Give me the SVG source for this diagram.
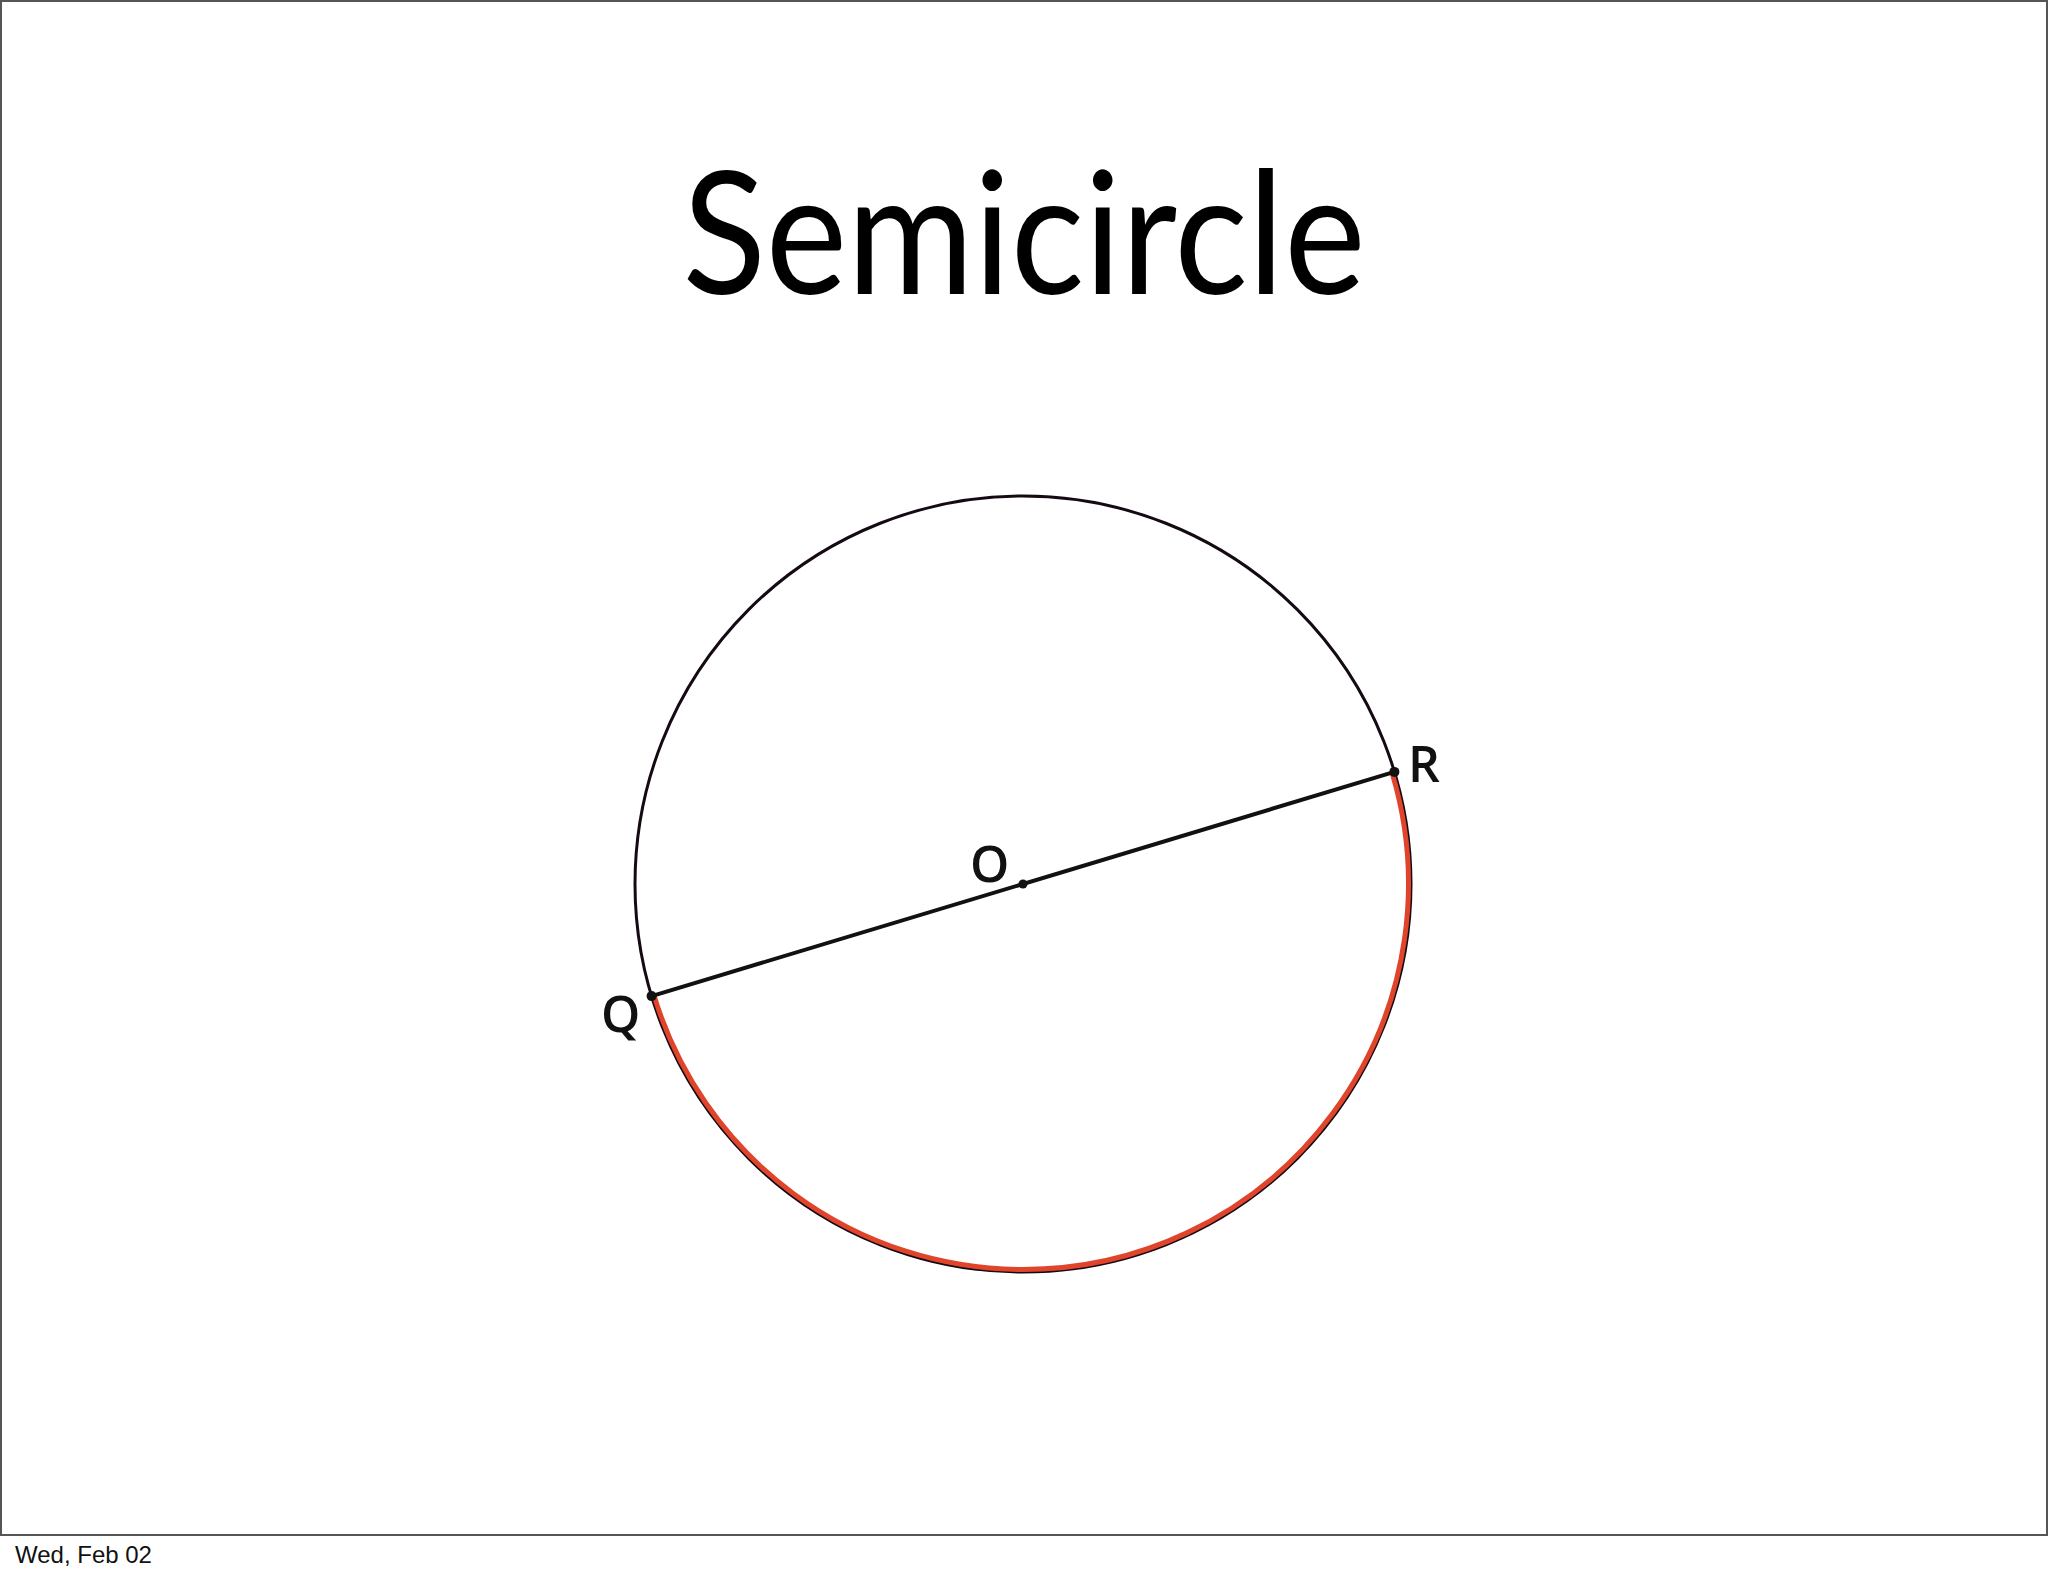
<svg xmlns="http://www.w3.org/2000/svg" width="2048" height="1576" viewBox="0 0 2048 1576">
  <style>
    .lbl { font-family: "Open Sans", "Noto Sans", sans-serif; font-size: 50px; font-weight: 600; fill: #111; }
    .title { font-family: Lato, "Open Sans", sans-serif; font-size: 170px; fill: #000; }
    .foot { font-family: "Liberation Sans", Arial, sans-serif; font-size: 24px; fill: #111; }
  </style>
  <rect x="0" y="0" width="2048" height="1576" fill="#ffffff"/>
  <rect x="1" y="1" width="2046" height="1534" fill="none" stroke="#555" stroke-width="2"/>
  <text class="title" x="1024" y="294" text-anchor="middle" textLength="683" lengthAdjust="spacingAndGlyphs">Semicircle</text>
  <g id="circle">
    <circle cx="1023" cy="884" r="388" fill="none" stroke="#150a14" stroke-width="3"/>
  </g>
  <g id="connectors">
    <path id="semicircle-arc" d="M654,995.4 A385.5,385.5 0 0 0 1023,1269.5 A385.5,385.5 0 0 0 1392,772.6" fill="none" stroke="#e0452c" stroke-width="5"/>
    <line id="diameter" x1="651.6" y1="996.1" x2="1394.4" y2="771.9" stroke="#111" stroke-width="4"/>
  </g>
  <g id="node-Q">
    <circle cx="651.6" cy="996.1" r="5" fill="#111"/>
    <text class="lbl" x="601" y="1032">Q</text>
  </g>
  <g id="node-R">
    <circle cx="1394.4" cy="771.9" r="5" fill="#111"/>
    <text class="lbl" x="1408" y="782">R</text>
  </g>
  <g id="node-O">
    <circle cx="1023" cy="884" r="4.5" fill="#111"/>
    <text class="lbl" x="970" y="882">O</text>
  </g>
  <text class="foot" x="15" y="1563">Wed, Feb 02</text>
</svg>
